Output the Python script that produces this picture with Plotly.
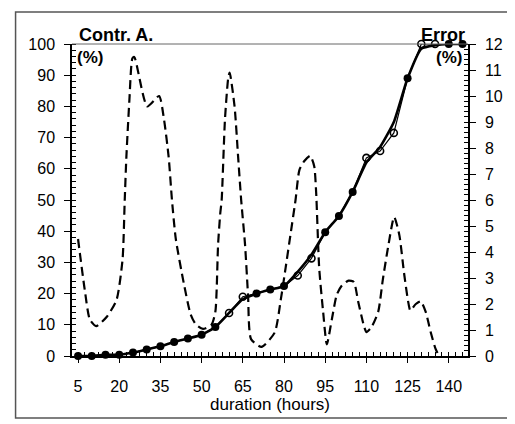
import plotly.graph_objects as go

# ---- data ----
hours = [5, 10, 15, 20, 25, 30, 35, 40, 45, 50, 55, 60, 65, 70, 75, 80, 85, 90,
         95, 100, 105, 110, 115, 120, 125, 130, 135, 140, 145]
measured = [0, 0, 0.4, 0.4, 1.1, 2.1, 3.1, 4.5, 5.6, 6.8, 9.3, 13.8, 19, 20, 21.3,
            22.4, 25.8, 31.3, 39.7, 44.9, 52.6, 63.5, 65.7, 71.5, 89, 100, 100, 100, 100]
model = [0, 0, 0.4, 0.4, 1.1, 2.1, 3.1, 4.5, 5.6, 6.8, 9.3, 13.8, 18.2, 20, 21.3,
         22.4, 27, 32.5, 39.7, 44.9, 52.6, 62, 67, 75, 89, 98.5, 99.6, 100, 100]
filled_hours = [5, 10, 15, 20, 25, 30, 35, 40, 45, 50, 55, 70, 75, 80, 95, 100, 105, 125, 140, 145]

err_hours = [5, 7.5, 9.3, 11.6, 15.4, 19, 21.2, 22, 22.6, 23.7, 24.8, 25.5, 30.2, 34.5,
             36.3, 38, 39.2, 40.6, 43.5, 46, 47.8, 50.5, 53.6, 55, 56, 56.8, 57.3, 58.5,
             59.7, 60.2, 62, 63.3, 64.4, 65.8, 66.9, 68, 71.8, 76.6, 78.8, 80.6, 82.4,
             84.2, 85.6, 87.4, 89.5, 91, 91.7, 92.8, 94.2, 95.6, 97.4, 99.2, 101, 103.5,
             105.4, 107, 109, 110, 111.8, 114.3, 116, 118, 120.1, 122, 123.7, 125.2, 126,
             128, 129.8, 131.6, 133.4, 135.2, 136.3]
err_values = [4.5, 2.5, 1.4, 1.15, 1.5, 2.15, 3.7, 6.0, 7.65, 9.85, 11.45, 11.5, 9.6, 10.0,
              9.1, 7.65, 6.0, 4.5, 2.8, 1.6, 1.23, 1.04, 1.2, 1.7, 4.3, 5.5, 6.0, 9.1,
              10.7, 10.9, 9.6, 7.65, 6.0, 4.3, 2.35, 0.65, 0.35, 0.9, 2.15, 3.4, 4.7,
              6.0, 7.15, 7.5, 7.7, 7.3, 6.3, 3.4, 1.75, 0.45, 1.4, 2.35, 2.7, 2.9,
              2.85, 2.1, 1.2, 0.92, 1.1, 1.7, 2.95, 4.25, 5.35, 4.65, 3.2, 2.1, 1.75,
              2.0, 2.1, 1.7, 0.92, 0.27, 0.03]

left_ticks = [0, 10, 20, 30, 40, 50, 60, 70, 80, 90, 100]
right_ticks = [0, 1, 2, 3, 4, 5, 6, 7, 8, 9, 10, 11, 12]
x_ticks = [5, 20, 35, 50, 65, 80, 95, 110, 125, 140]

FONT = "Liberation Sans, Arial, sans-serif"

filled_vals = [measured[hours.index(h)] for h in filled_hours]
open_hours = [h for h in hours if h not in filled_hours]
open_vals = [measured[hours.index(h)] for h in open_hours]

fig = go.Figure()

fig.add_trace(go.Scatter(x=err_hours, y=err_values, mode="lines", yaxis="y2",
                         line=dict(color="black", width=2.2, dash="9px,5px", shape="spline",
                                   smoothing=0.6),
                         showlegend=False))
fig.add_trace(go.Scatter(x=hours, y=model, mode="lines",
                         line=dict(color="black", width=2.6, shape="spline", smoothing=0.5),
                         showlegend=False))
fig.add_trace(go.Scatter(x=hours, y=measured, mode="lines",
                         line=dict(color="black", width=1.2),
                         showlegend=False))
fig.add_trace(go.Scatter(x=filled_hours, y=filled_vals, mode="markers",
                         marker=dict(symbol="circle", size=8, color="black"),
                         showlegend=False, cliponaxis=False))
fig.add_trace(go.Scatter(x=open_hours, y=open_vals, mode="markers",
                         marker=dict(symbol="circle-open", size=7, color="black",
                                     line=dict(width=1.6)),
                         showlegend=False, cliponaxis=False))

tickfont = dict(family=FONT, size=16, color="black")

# page body has an 8px default margin, so the figure is 8px smaller each way
fig.update_layout(
    width=507, height=416,
    margin=dict(l=64, r=43, t=36, b=68),
    paper_bgcolor="white", plot_bgcolor="white",
    font=dict(family=FONT, color="black"),
    xaxis=dict(range=[2.8, 147], tickmode="array", tickvals=x_ticks,
               ticks="outside", ticklen=5, tickwidth=1.2, tickcolor="black",
               minor=dict(dtick=2.5, tick0=0, ticks="inside", ticklen=4, tickwidth=1,
                          tickcolor="black"),
               showline=True, linecolor="black", linewidth=1.5,
               showgrid=False, zeroline=False, tickfont=tickfont,
               ticklabelstandoff=10,
               title=dict(text="duration (hours)", font=dict(family=FONT, size=17),
                          standoff=3)),
    yaxis=dict(range=[0, 100], tickmode="array", tickvals=left_ticks,
               ticks="outside", ticklen=6, tickwidth=1.2, tickcolor="black",
               minor=dict(dtick=2, ticks="inside", ticklen=4, tickwidth=1,
                          tickcolor="black"),
               showline=True, linecolor="black", linewidth=1.5,
               showgrid=False, zeroline=False, tickfont=tickfont,
               ticklabelstandoff=6),
    yaxis2=dict(range=[0, 12], overlaying="y", side="right", tickmode="array",
                tickvals=right_ticks,
                ticks="outside", ticklen=6, tickwidth=1.2, tickcolor="black",
                minor=dict(dtick=0.2, ticks="inside", ticklen=4, tickwidth=1,
                           tickcolor="black"),
                showline=True, linecolor="black", linewidth=1.5,
                showgrid=False, zeroline=False, tickfont=tickfont,
                ticklabelstandoff=6),
    shapes=[
        dict(type="line", xref="paper", yref="paper", x0=0, x1=1, y0=1, y1=1,
             line=dict(color="#666666", width=1)),
        dict(type="rect", xref="paper", yref="paper", x0=-0.1425, x1=1.1025,
             y0=-0.1987, y1=1.1026, line=dict(color="#555555", width=1.5)),
    ],
    annotations=[
        dict(text="<b>Contr. A.</b>", xref="paper", yref="paper", x=0.012, y=1.029,
             xanchor="left", yanchor="middle", showarrow=False,
             font=dict(family=FONT, size=18)),
        dict(text="<b>(%)</b>", xref="paper", yref="paper", x=0.008, y=0.958,
             xanchor="left", yanchor="middle", showarrow=False,
             font=dict(family=FONT, size=17)),
        dict(text="<b>Error</b>", xref="paper", yref="paper", x=0.998, y=1.029,
             xanchor="right", yanchor="middle", showarrow=False,
             font=dict(family=FONT, size=18)),
        dict(text="<b>(%)</b>", xref="paper", yref="paper", x=0.99, y=0.958,
             xanchor="right", yanchor="middle", showarrow=False,
             font=dict(family=FONT, size=17)),
    ],
)

fig.write_html("out.html")
